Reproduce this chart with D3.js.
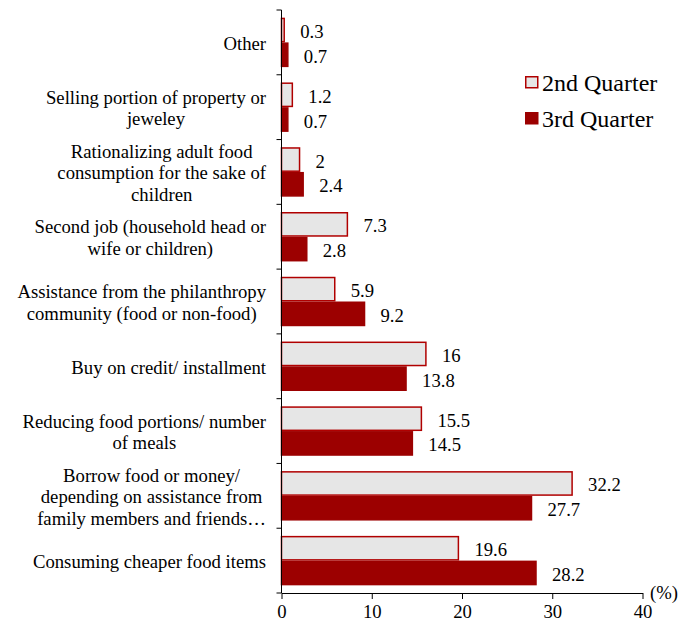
<!DOCTYPE html>
<html>
<head>
<meta charset="utf-8">
<script src="https://cdn.jsdelivr.net/npm/d3@7"></script>
<style>
  body { margin: 0; background: #fff; }
  svg text { font-family: "Liberation Serif", "Times New Roman", serif; fill: #000; }
</style>
</head>
<body>
<svg width="686" height="624"></svg>
<script>
const categories = [
  ["Other"],
  ["Selling portion of property or", "jeweley"],
  ["Rationalizing adult food", "consumption for the sake of", "children"],
  ["Second job (household head or", "wife or children)"],
  ["Assistance from the philanthropy", "community (food or non-food)"],
  ["Buy on credit/ installment"],
  ["Reducing food portions/ number", "of meals"],
  ["Borrow food or money/", "depending on assistance from", "family members and friends…"],
  ["Consuming cheaper food items"]
];
const series = ["2nd Quarter", "3rd Quarter"];
const q2 = [0.3, 1.2, 2, 7.3, 5.9, 16, 15.5, 32.2, 19.6];
const q3 = [0.7, 0.7, 2.4, 2.8, 9.2, 13.8, 14.5, 27.7, 28.2];
const xTicks = [0, 10, 20, 30, 40];

const svg = d3.select("svg");
const serif = "'Liberation Serif', 'Times New Roman', serif";
const plotLeft = 281.5, plotRight = 642.5, plotTop = 10, plotBottom = 593;

const rows = categories.map((c, i) => ({ i, lines: c, values: [q2[i], q3[i]] }));

const x = d3.scaleLinear().domain([0, 40]).range([plotLeft, plotRight]);
const y = d3.scaleBand().domain(d3.range(categories.length)).range([plotTop, plotBottom]).padding(0);
const ySub = d3.scaleBand().domain(series).range([0, y.bandwidth()]).paddingInner(0).paddingOuter(0.31);

const fills = { "2nd Quarter": "#e6e6e6", "3rd Quarter": "#9c0000" };
const strokes = { "2nd Quarter": "#b00000", "3rd Quarter": "#9c0000" };

// bars
const groups = svg.append("g").selectAll("g")
  .data(rows)
  .join("g")
  .attr("transform", d => `translate(0,${y(d.i)})`);

groups.selectAll("rect")
  .data(d => d.values.map((v, k) => ({ s: series[k], v })))
  .join("rect")
  .attr("x", x(0))
  .attr("y", d => ySub(d.s) + 0.75)
  .attr("width", d => x(d.v) - x(0))
  .attr("height", ySub.bandwidth() - 1.5)
  .attr("fill", d => fills[d.s])
  .attr("stroke", d => strokes[d.s])
  .attr("stroke-width", 1.5);

groups.selectAll("text.val")
  .data(d => d.values.map((v, k) => ({ s: series[k], v })))
  .join("text")
  .attr("class", "val")
  .attr("x", d => x(d.v) + 16)
  .attr("y", d => ySub(d.s) + ySub.bandwidth() / 2 + 1.5)
  .attr("dominant-baseline", "central")
  .style("font-family", serif)
  .style("font-size", "18.7px")
  .text(d => d.v);

// y axis
const yAxis = svg.append("g");
yAxis.append("line")
  .attr("x1", plotLeft).attr("x2", plotLeft)
  .attr("y1", plotTop).attr("y2", plotBottom)
  .attr("stroke", "#000");
yAxis.selectAll("line.tick")
  .data(d3.range(categories.length + 1))
  .join("line")
  .attr("class", "tick")
  .attr("x1", plotLeft - 5).attr("x2", plotLeft)
  .attr("y1", i => i < categories.length ? y(i) : plotBottom)
  .attr("y2", i => i < categories.length ? y(i) : plotBottom)
  .attr("stroke", "#000");

// category labels: lines centred within a right-aligned block
const lineH = 21.5, labelRight = 266;
rows.forEach(r => {
  const g = svg.append("g");
  const n = r.lines.length;
  const cy = y(r.i) + y.bandwidth() / 2 + 1;
  const texts = g.selectAll("text")
    .data(r.lines)
    .join("text")
    .attr("y", (t, k) => cy + (k - (n - 1) / 2) * lineH)
    .attr("dominant-baseline", "central")
    .attr("text-anchor", "middle")
    .style("font-family", serif)
    .style("font-size", "18.7px")
    .text(t => t);
  const w = d3.max(texts.nodes(), nd => nd.getComputedTextLength());
  texts.attr("x", labelRight - w / 2);
});

// x axis
const xAxis = svg.append("g").attr("transform", `translate(0,${plotBottom})`)
  .call(d3.axisBottom(x).tickValues(xTicks).tickSize(6).tickSizeOuter(0).tickFormat(d3.format("d")));
xAxis.select(".domain").attr("stroke", "#000");
xAxis.selectAll(".tick line").attr("stroke", "#000");
xAxis.selectAll(".tick text")
  .attr("y", 12)
  .style("font-size", "18.7px")
  .style("font-family", serif);

svg.append("text")
  .attr("x", 664)
  .attr("y", plotBottom - 1)
  .attr("text-anchor", "middle")
  .attr("dominant-baseline", "central")
  .style("font-family", serif)
  .style("font-size", "18.7px")
  .text("(%)");

// legend
const legend = svg.append("g").selectAll("g")
  .data(series)
  .join("g")
  .attr("transform", (d, i) => `translate(525,${76 + i * 36})`);
legend.append("rect")
  .attr("x", 0.75).attr("y", 0.75)
  .attr("width", 12).attr("height", 11)
  .attr("fill", d => fills[d])
  .attr("stroke", d => strokes[d])
  .attr("stroke-width", 1.5);
legend.append("text")
  .attr("x", 17)
  .attr("y", 7)
  .attr("dominant-baseline", "central")
  .style("font-family", serif)
  .style("font-size", "24px")
  .text(d => d);
</script>
</body>
</html>
